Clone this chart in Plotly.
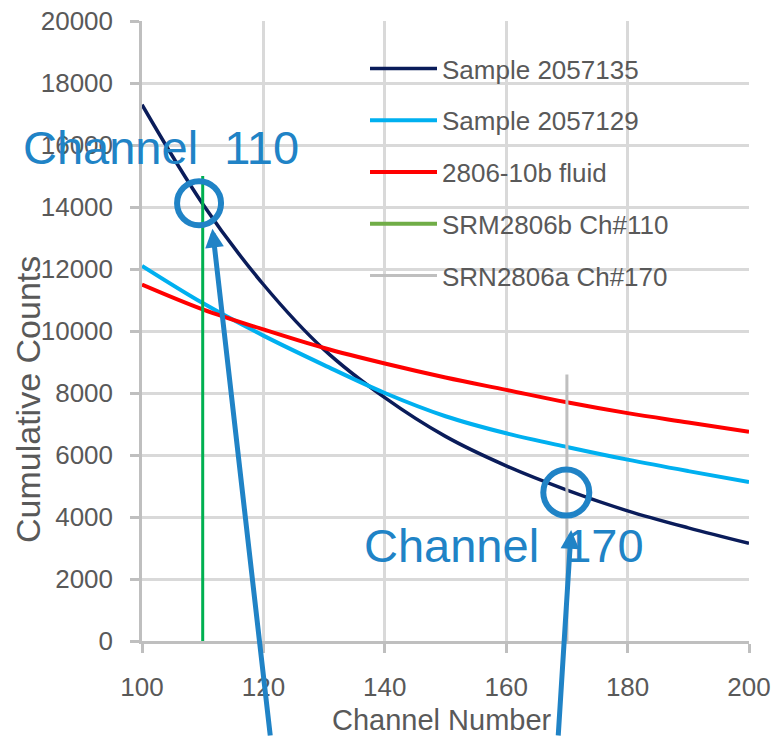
import plotly.graph_objects as go

channels = [100, 110, 120, 130, 140, 150, 160, 170, 180, 190, 200]
sample_2057135 = [17300, 14100, 11500, 9400, 7850, 6600, 5650, 4870, 4200, 3650, 3150]
sample_2057129 = [12100, 10900, 9850, 8900, 8000, 7250, 6700, 6260, 5850, 5480, 5130]
fluid_2806 = [11500, 10700, 10050, 9450, 8950, 8500, 8100, 7700, 7350, 7050, 6750]
srm_b_x = [110, 110]
srm_b_y = [0, 15000]
srn_a_x = [170, 170]
srn_a_y = [0, 8600]

names = ["Sample 2057135", "Sample 2057129", "2806-10b fluid", "SRM2806b Ch#110", "SRN2806a Ch#170"]
colors = ["#0a1c5a", "#00b0f0", "#ff0000", "#00b050", "#bfbfbf"]

ann_color = "#2083c6"
font_main = "Liberation Sans, Arial, sans-serif"
grey_txt = "#595959"

fig = go.Figure()
fig.add_trace(go.Scatter(x=channels, y=sample_2057135, mode="lines", name=names[0],
                         line=dict(color=colors[0], width=3.5, shape="spline"), legendgroup="a"))
fig.add_trace(go.Scatter(x=channels, y=sample_2057129, mode="lines", name=names[1],
                         line=dict(color=colors[1], width=4, shape="spline"), legendgroup="b"))
fig.add_trace(go.Scatter(x=channels, y=fluid_2806, mode="lines", name=names[2],
                         line=dict(color=colors[2], width=4, shape="spline"), legendgroup="c"))
fig.add_trace(go.Scatter(x=srm_b_x, y=srm_b_y, mode="lines", name=names[3], showlegend=False,
                         line=dict(color=colors[3], width=3)))
fig.add_trace(go.Scatter(x=[None], y=[None], mode="lines", name=names[3],
                         line=dict(color="#70ad47", width=4), legendgroup="d"))
fig.add_trace(go.Scatter(x=srn_a_x, y=srn_a_y, mode="lines", name=names[4],
                         line=dict(color=colors[4], width=3), legendgroup="e"))

# circles highlighting the channel points
fig.add_shape(type="circle", xref="x", yref="y", xsizemode="pixel", ysizemode="pixel",
              xanchor=109.4, yanchor=14120, x0=-22, x1=22, y0=-22, y1=22,
              line=dict(color=ann_color, width=6))
fig.add_shape(type="circle", xref="x", yref="y", xsizemode="pixel", ysizemode="pixel",
              xanchor=169.9, yanchor=4790, x0=-23, x1=23, y0=-23, y1=23,
              line=dict(color=ann_color, width=6))

# arrows
fig.add_annotation(x=111.6, y=13300, xref="x", yref="y", ax=58, ay=515,
                   text="", showarrow=True, arrowhead=2, arrowsize=0.75, arrowwidth=5, arrowcolor=ann_color)
fig.add_annotation(x=170.7, y=3580, xref="x", yref="y", ax=-13, ay=210,
                   text="", showarrow=True, arrowhead=2, arrowsize=0.75, arrowwidth=5, arrowcolor=ann_color)

# labels
fig.add_annotation(x=(161 - 142) / 607, y=(641 - 147) / 620, xref="paper", yref="paper",
                   xanchor="center", yanchor="middle",
                   text="Channel\u00a0\u00a0110", showarrow=False,
                   font=dict(family="Arial, Liberation Sans, sans-serif", size=47, color=ann_color))
fig.add_annotation(x=(504 - 142) / 607, y=(641 - 545) / 620, xref="paper", yref="paper",
                   xanchor="center", yanchor="middle",
                   text="Channel\u00a0\u00a0170", showarrow=False,
                   font=dict(family="Arial, Liberation Sans, sans-serif", size=47, color=ann_color))

# axis titles
fig.add_annotation(x=(28 - 142) / 607, y=(641 - 400) / 620, xref="paper", yref="paper",
                   xanchor="center", yanchor="middle",
                   text="Cumulative Counts", textangle=-90, showarrow=False,
                   font=dict(family=font_main, size=34, color=grey_txt))
fig.add_annotation(x=(442 - 142) / 607, y=(641 - 720) / 620, xref="paper", yref="paper",
                   xanchor="center", yanchor="middle",
                   text="Channel Number", showarrow=False,
                   font=dict(family=font_main, size=29, color=grey_txt))

fig.update_layout(
    width=773, height=737,
    margin=dict(l=142, r=24, t=21, b=96, autoexpand=False),
    paper_bgcolor="white", plot_bgcolor="white",
    font=dict(family=font_main, size=26, color=grey_txt),
    showlegend=True,
    legend=dict(x=(365 - 142) / 607, y=(641 - 45) / 620, xanchor="left", yanchor="top",
                bgcolor="rgba(0,0,0,0)", font=dict(size=26, color=grey_txt),
                itemwidth=67, tracegroupgap=15, traceorder="grouped"),
    xaxis=dict(range=[100, 200], dtick=20, tick0=100, showgrid=True, gridcolor="#d9d9d9", gridwidth=2.5,
               showline=True, linecolor="#bfbfbf", linewidth=2.5, ticks="outside", ticklen=9,
               tickcolor="#bfbfbf", tickwidth=2.5, zeroline=False, automargin=False,
               tickformat="d", ticklabelstandoff=12,
               tickfont=dict(size=26, color=grey_txt, family=font_main)),
    yaxis=dict(range=[0, 20000], dtick=2000, tick0=0, showgrid=True, gridcolor="#d9d9d9", gridwidth=2.5,
               showline=True, linecolor="#bfbfbf", linewidth=2.5, ticks="outside", ticklen=9,
               tickcolor="#bfbfbf", tickwidth=2.5, zeroline=False, automargin=False,
               tickformat="d", ticklabelstandoff=12,
               tickfont=dict(size=26, color=grey_txt, family=font_main)),
)

fig.write_html("out.html")
